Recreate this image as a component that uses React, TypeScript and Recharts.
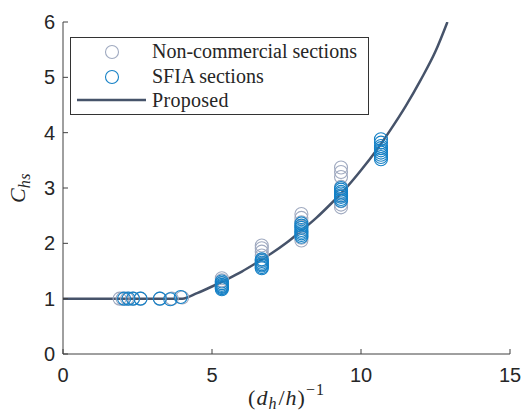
import React from "react";
import { ComposedChart, Scatter, Line, XAxis, YAxis, Legend, Label } from "recharts";

const xTicks = [0, 5, 10, 15];
const yTicks = [0, 1, 2, 3, 4, 5, 6];

const nonComX = [
  1.9, 2.0, 2.15, 2.35, 2.6, 3.25, 3.65, 4.0,
  5.33, 5.33, 5.33, 5.33,
  6.67, 6.67, 6.67, 6.67, 6.67, 6.67,
  8, 8, 8, 8, 8, 8,
  9.33, 9.33, 9.33, 9.33, 9.33, 9.33, 9.33, 9.33,
];
const nonComY = [
  1, 1, 1, 1, 1, 1, 1, 1.02,
  1.22, 1.28, 1.33, 1.37,
  1.62, 1.7, 1.78, 1.85, 1.91, 1.96,
  2.05, 2.1, 2.3, 2.38, 2.46, 2.53,
  2.65, 2.7, 2.76, 2.86, 3.02, 3.2, 3.29, 3.37,
];

const sfiaX = [
  2.05, 2.2, 2.35, 2.6, 3.25, 3.6, 3.95,
  5.33, 5.33, 5.33, 5.33, 5.33, 5.33, 5.33,
  6.67, 6.67, 6.67, 6.67, 6.67, 6.67, 6.67,
  8, 8, 8, 8, 8, 8, 8, 8,
  9.33, 9.33, 9.33, 9.33, 9.33, 9.33, 9.33, 9.33,
  10.67, 10.67, 10.67, 10.67, 10.67, 10.67, 10.67, 10.67, 10.67,
];
const sfiaY = [
  1, 1, 1, 1, 1, 0.99, 1.03,
  1.17, 1.19, 1.21, 1.23, 1.25, 1.28, 1.31,
  1.55, 1.57, 1.6, 1.62, 1.65, 1.68, 1.71,
  2.12, 2.15, 2.18, 2.21, 2.24, 2.28, 2.32, 2.36,
  2.77, 2.8, 2.84, 2.87, 2.9, 2.93, 2.97, 3.0,
  3.52, 3.56, 3.6, 3.64, 3.68, 3.72, 3.76, 3.82, 3.88,
];

const curveX = [0, 2, 4, 4.5, 5, 5.5, 6, 6.5, 7, 7.5, 8, 8.5, 9, 9.5, 10, 10.5, 11, 11.5, 12, 12.5, 12.9];
const curveY = [1, 1, 1, 1.1, 1.22, 1.35, 1.49, 1.65, 1.82, 2.01, 2.23, 2.46, 2.72, 3.0, 3.32, 3.67, 4.06, 4.48, 4.95, 5.47, 6.0];

const nonComData = nonComX.map((x, i) => ({ x, y: nonComY[i] }));
const sfiaData = sfiaX.map((x, i) => ({ x, y: sfiaY[i] }));
const curveData = curveX.map((x, i) => ({ x, y: curveY[i] }));

const GRAY = "#a0aac0";
const BLUE = "#1581c6";
const LINE = "#46536a";
const AXIS = "#404040";
const TEXT = "#262626";
const SERIF = "'Liberation Serif', 'Times New Roman', serif";
const SANS = "'Liberation Sans', Arial, sans-serif";

const makeCircle = (color: string) => (props: any) => {
  const { cx, cy } = props;
  if (cx == null || cy == null) return <g />;
  return <circle cx={cx} cy={cy} r={6.5} fill="none" stroke={color} strokeWidth={1.1} />;
};

const LegendBox = () => (
  <svg width={300} height={79} style={{ display: "block" }}>
    <rect x={0.5} y={0.5} width={298} height={77} fill="#fff" stroke="#333" strokeWidth={1} />
    <circle cx={42} cy={15} r={6.5} fill="none" stroke={GRAY} strokeWidth={1.1} />
    <circle cx={42} cy={40} r={6.5} fill="none" stroke={BLUE} strokeWidth={1.1} />
    <line x1={7} y1={63} x2={76} y2={63} stroke={LINE} strokeWidth={2.5} />
    <text x={82} y={21} fontFamily={SERIF} fontSize={20} fill={TEXT}>Non-commercial sections</text>
    <text x={82} y={46} fontFamily={SERIF} fontSize={20} fill={TEXT}>SFIA sections</text>
    <text x={82} y={70} fontFamily={SERIF} fontSize={20} fill={TEXT} letterSpacing={0.3}>Proposed</text>
  </svg>
);

const YLabel = (props: any) => {
  const vb = props.viewBox || { x: 0, y: 22, width: 63, height: 332 };
  const cx = vb.x + 25;
  const cy = vb.y + vb.height / 2;
  return (
    <text
      x={cx}
      y={cy}
      transform={`rotate(-90, ${cx}, ${cy})`}
      textAnchor="middle"
      fontFamily={SERIF}
      fontSize={22}
      fontStyle="italic"
      fill={TEXT}
    >
      C<tspan dy={5} fontSize={16} letterSpacing={0.5}>hs</tspan>
    </text>
  );
};

const XLabel = (props: any) => {
  const vb = props.viewBox || { x: 63, y: 354, width: 447, height: 61 };
  const cx = vb.x + vb.width / 2;
  const cy = vb.y + 51;
  return (
    <text x={cx} y={cy} textAnchor="middle" fontFamily={SERIF} fontSize={22} fill={TEXT} letterSpacing={1}>
      (<tspan fontStyle="italic">d</tspan>
      <tspan fontStyle="italic" fontSize={16} dy={4}>h</tspan>
      <tspan dy={-4} dx={1}>/</tspan>
      <tspan fontStyle="italic">h</tspan>)
      <tspan fontSize={16} dy={-10}>−1</tspan>
    </text>
  );
};

export default function App() {
  return (
    <div style={{ position: "absolute", left: 0, top: 0, background: "#fff" }}>
      <ComposedChart
        width={525}
        height={415}
        margin={{ top: 22, right: 15, bottom: 0, left: 0 }}
      >
        <XAxis
          type="number"
          dataKey="x"
          domain={[0, 15]}
          ticks={xTicks}
          allowDataOverflow
          height={61}
          tickSize={-5}
          tickMargin={19}
          stroke={AXIS}
          tick={{ fill: TEXT, fontSize: 20, fontFamily: SANS }}
        >
          <Label content={<XLabel />} />
        </XAxis>
        <YAxis
          type="number"
          dataKey="y"
          domain={[0, 6]}
          ticks={yTicks}
          allowDataOverflow
          width={63}
          tickSize={-5}
          tickMargin={13}
          stroke={AXIS}
          tick={{ fill: TEXT, fontSize: 20, fontFamily: SANS }}
        >
          <Label content={<YLabel />} />
        </YAxis>
        <Legend
          layout="vertical"
          align="center"
          verticalAlign="middle"
          content={() => <LegendBox />}
          wrapperStyle={{ position: "absolute", left: 70, top: 37, width: 300, height: 79 }}
        />
        <Scatter
          name="Non-commercial sections"
          data={nonComData}
          shape={makeCircle(GRAY)}
          isAnimationActive={false}
        />
        <Scatter
          name="SFIA sections"
          data={sfiaData}
          shape={makeCircle(BLUE)}
          isAnimationActive={false}
        />
        <Line
          name="Proposed"
          data={curveData}
          dataKey="y"
          type="monotone"
          stroke={LINE}
          strokeWidth={2.5}
          dot={false}
          activeDot={false}
          isAnimationActive={false}
        />
      </ComposedChart>
    </div>
  );
}
